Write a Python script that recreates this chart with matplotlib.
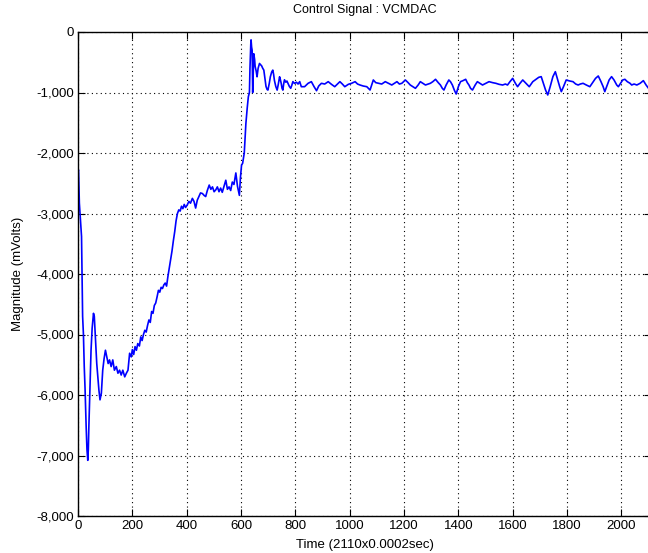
import matplotlib
matplotlib.use("Agg")
import matplotlib.pyplot as plt
from matplotlib.ticker import FuncFormatter
import numpy as np

# samples (time index, mV)
t_start = [0, 2, 5, 9, 13, 17, 20, 23, 26, 30, 33, 36, 38, 40, 44, 48, 52, 57, 60, 64,
           69, 73, 77, 81, 86, 91, 96, 101, 106, 111, 116, 122, 128, 134, 141, 147, 153,
           159, 165, 172, 178, 184, 190, 196]
v_start = [-2300, -2280, -2830, -3100, -3380, -4700, -5000, -5530, -5900, -6520, -6900,
           -7080, -6900, -6520, -5900, -5260, -4900, -4650, -4700, -5040, -5480, -5700,
           -5920, -6080, -5970, -5590, -5400, -5260, -5370, -5480, -5420, -5530, -5420,
           -5590, -5530, -5640, -5590, -5670, -5590, -5700, -5640, -5590, -5310, -5370]

t_rise = [200, 205, 210, 215, 220, 226, 231, 236, 241, 246, 251, 256, 261, 266, 271, 276,
          281, 286, 291, 296, 301, 306, 311, 316, 321, 326, 331, 336, 341, 346, 351, 356,
          361, 366, 371, 376, 381, 386, 391, 396, 402, 408, 414, 421, 427, 433, 439, 445,
          451, 458, 464, 470, 476, 483, 489, 495, 501, 507, 513, 519, 525, 531, 537, 544,
          550, 556, 562, 568, 574, 581, 587, 594, 598, 602, 606, 612, 618, 623, 627, 631,
          633, 636, 637, 639, 641, 643, 645, 647, 650, 652, 656, 659, 663, 668, 672, 676,
          680, 684, 688, 692, 696, 699, 704, 708, 713, 717, 720, 723, 728, 733, 737, 742,
          745, 748, 751, 754, 757, 760, 765, 769, 773, 778, 783, 787, 791, 797, 804, 810,
          816]
v_rise = [-5250, -5330, -5200, -5260, -5150, -5190, -5040, -5100, -5000, -4930, -4960,
          -4850, -4760, -4800, -4620, -4650, -4520, -4480, -4380, -4270, -4300, -4220,
          -4240, -4180, -4150, -4200, -4040, -3900, -3770, -3620, -3450, -3300, -3120,
          -3000, -2940, -2960, -2880, -2920, -2850, -2900, -2860, -2800, -2830, -2750,
          -2800, -2910, -2780, -2720, -2660, -2670, -2700, -2720, -2620, -2530, -2600,
          -2560, -2640, -2610, -2560, -2640, -2580, -2650, -2560, -2450, -2600, -2560,
          -2620, -2480, -2520, -2330, -2550, -2700, -2400, -2200, -2170, -2000, -1510,
          -1250, -1070, -1000, -600, -200, -130, -250, -300, -1000, -700, -360, -450,
          -570, -650, -740, -600, -520, -540, -560, -600, -630, -760, -900, -950, -960,
          -850, -740, -660, -630, -700, -800, -900, -960, -870, -740, -790, -850, -930,
          -960, -860, -790, -830, -810, -850, -900, -930, -880, -820, -850, -830, -860,
          -820]

t_steady = [822, 834, 847, 859, 869, 878, 886, 896, 908, 921, 933, 945, 955, 964, 973, 982,
            995, 1007, 1020, 1029, 1038, 1050, 1063, 1075, 1087, 1096, 1106, 1118, 1131,
            1143, 1155, 1165, 1174, 1183, 1192, 1205, 1215, 1223, 1233, 1242, 1252, 1260,
            1269, 1279, 1289, 1297, 1306, 1316, 1326, 1334, 1341, 1347, 1355, 1365, 1371,
            1378, 1385, 1392, 1400, 1408, 1417, 1427, 1433, 1439, 1445, 1452, 1462, 1470,
            1479, 1489, 1501, 1513, 1526, 1538, 1550, 1563, 1573, 1581, 1590, 1600, 1610,
            1618, 1627, 1637, 1649, 1661, 1674, 1686, 1696, 1705, 1713, 1721, 1729, 1738,
            1748, 1757, 1764, 1773, 1779, 1787, 1797, 1810, 1822, 1832, 1841, 1849, 1859,
            1871, 1884, 1894, 1905, 1915, 1925, 1933, 1939, 1948, 1955, 1964, 1973, 1983,
            1989, 1997, 2005, 2013, 2022, 2032, 2038, 2047, 2057, 2069, 2081, 2091, 2100,
            2110]
v_steady = [-904, -904, -848, -821, -904, -970, -893, -848, -860, -821, -865, -904, -860,
            -821, -860, -904, -865, -848, -821, -860, -876, -893, -904, -959, -793, -837,
            -848, -860, -821, -848, -876, -848, -821, -860, -848, -793, -837, -876, -904,
            -931, -876, -821, -848, -876, -860, -848, -821, -782, -837, -876, -931, -959,
            -876, -793, -821, -876, -959, -1025, -904, -821, -804, -782, -837, -876, -931,
            -959, -876, -821, -848, -876, -848, -821, -837, -848, -865, -876, -860, -876,
            -821, -766, -848, -904, -848, -793, -848, -904, -821, -782, -749, -738, -848,
            -959, -1041, -904, -738, -656, -766, -904, -986, -904, -793, -810, -821, -860,
            -876, -860, -848, -876, -904, -837, -766, -727, -821, -904, -986, -876, -793,
            -738, -793, -876, -904, -848, -793, -782, -821, -848, -876, -860, -876, -848,
            -804, -876, -931, -959]

time = np.array(t_start + t_rise + t_steady)
mvolts = np.array(v_start + v_rise + v_steady)

plt.rcParams['font.family'] = ['Liberation Sans', 'DejaVu Sans']
plt.rcParams['font.size'] = 9

fig = plt.figure(figsize=(6.48, 5.53), dpi=100)
ax = fig.add_axes([78 / 648, 1 - 516 / 553, 1.005 - 78 / 648, (516 - 32) / 553])

ax.plot(time, mvolts, color='#0000ff', lw=1.2)

ax.set_xlim(0, 2110)
ax.set_ylim(-8000, 0)
ax.set_xticks(np.arange(0, 2001, 200))
ax.set_yticks(np.arange(-8000, 1, 1000))
ax.yaxis.set_major_formatter(FuncFormatter(lambda v, p: f"{int(v):,}"))

ax.grid(True, color='black', linestyle=(0, (1, 3)), linewidth=0.8)
ax.tick_params(direction='in', length=5, top=True, right=True, labelsize=9.5, pad=3)
for s in ax.spines.values():
    s.set_linewidth(1.0)

ax.set_title("Control Signal : VCMDAC", fontsize=9, pad=14)
ax.set_xlabel("Time (2110x0.0002sec)", fontsize=9.5, labelpad=5)
ax.set_ylabel("Magnitude (mVolts)", fontsize=9.5, labelpad=9)

fig.savefig("out.png", dpi=100)
